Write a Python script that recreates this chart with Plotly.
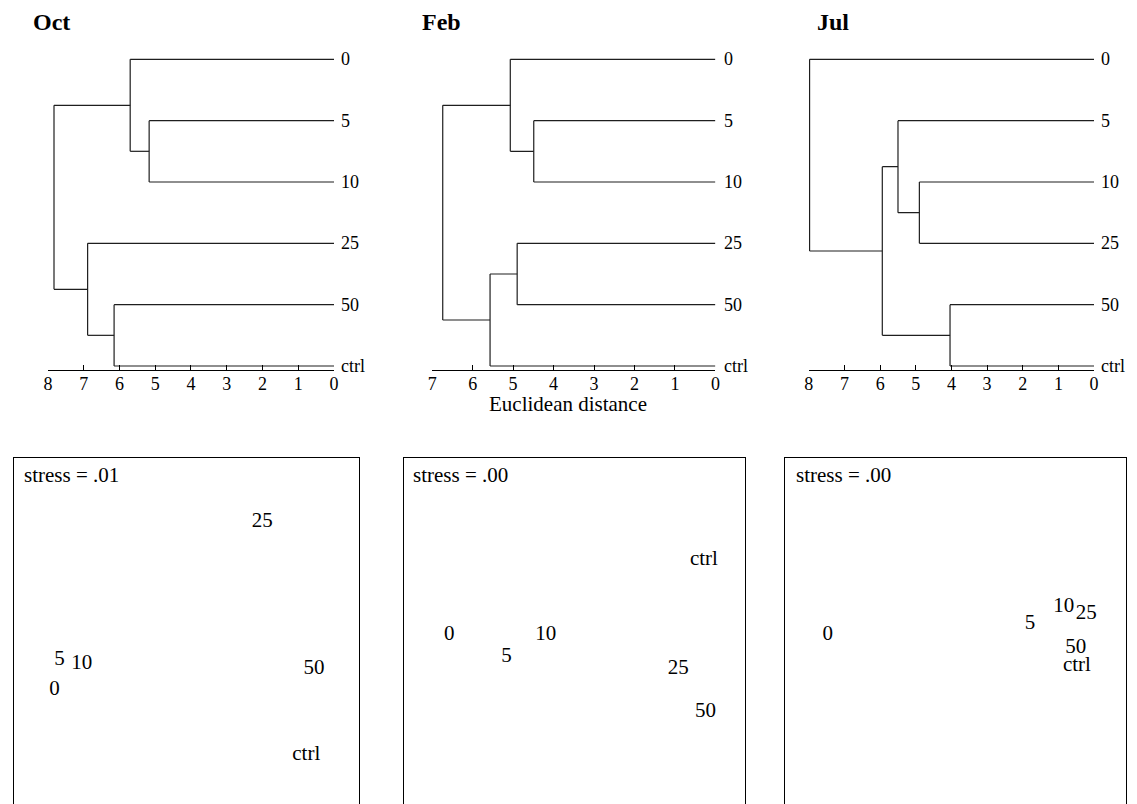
import plotly.graph_objects as go

W, H = 1137, 804
FONT = "Liberation Serif"

# ---------------- data ----------------
leaves = ["0", "5", "10", "25", "50", "ctrl"]

# linkage: (child_a, child_b, height); leaves are 0..5, new clusters 6,7,...
oct_merges = [(1, 2, 5.17), (0, 6, 5.70), (4, 5, 6.15), (3, 8, 6.89), (7, 9, 7.83)]
feb_merges = [(1, 2, 4.49), (0, 6, 5.07), (3, 4, 4.90), (8, 5, 5.57), (7, 9, 6.74)]
jul_merges = [(2, 3, 4.90), (1, 6, 5.50), (4, 5, 4.04), (7, 8, 5.94), (0, 9, 7.98)]

oct_ticks = [0, 1, 2, 3, 4, 5, 6, 7, 8]
feb_ticks = [0, 1, 2, 3, 4, 5, 6, 7]
jul_ticks = [0, 1, 2, 3, 4, 5, 6, 7, 8]

# MDS ordinations (dimension 1, dimension 2)
mds_labels = ["0", "5", "10", "25", "50", "ctrl"]
oct_dim1 = [-0.764, -0.736, -0.607, 0.440, 0.740, 0.695]
oct_dim2 = [-0.333, -0.161, -0.180, 0.634, -0.209, -0.707]
feb_dim1 = [-0.735, -0.399, -0.169, 0.608, 0.767, 0.758]
feb_dim2 = [-0.029, -0.155, -0.029, -0.223, -0.475, 0.407]
jul_dim1 = [-0.748, 0.437, 0.635, 0.767, 0.705, 0.712]
jul_dim2 = [-0.029, 0.040, 0.136, 0.098, -0.104, -0.204]

stress = [".01", ".00", ".00"]
months = ["Oct", "Feb", "Jul"]

# ---------------- layout geometry (pixels) ----------------
def px(x):
    return x / W

def py(y):
    return 1 - y / H

dend_x = [(43.3, 332.0), (431.0, 716.7), (811.0, 1098.7)]
dend_max = [8, 7, 8]
leaf_top, leaf_step, axis_y, dend_top = 59.3, 61.34, 370.0, 40.0
label_shift = [5, 7, 5]
title_x = [26, 419, 817]

mds_x = [(9.0, 357.0), (402.7, 746.7), (786.7, 1131.0)]
mds_top = 458.0
stress_x = [17, 410, 796]

fig = go.Figure()


def dendro_segments(merges):
    pos = {i: float(i) for i in range(len(leaves))}
    hgt = {i: 0.0 for i in range(len(leaves))}
    xs, ys = [], []
    nid = len(leaves)
    for a, b, h in merges:
        for c in (a, b):
            xs += [hgt[c], h, None]
            ys += [pos[c], pos[c], None]
        xs += [h, h, None]
        ys += [pos[a], pos[b], None]
        pos[nid] = (pos[a] + pos[b]) / 2
        hgt[nid] = h
        nid += 1
    return xs, ys


all_merges = [oct_merges, feb_merges, jul_merges]
all_ticks = [oct_ticks, feb_ticks, jul_ticks]
mds_all = [(oct_dim1, oct_dim2), (feb_dim1, feb_dim2), (jul_dim1, jul_dim2)]

annotations = []
layout_axes = {}

for k in range(3):
    ax = "" if k == 0 else str(k + 1)
    xs, ys = dendro_segments(all_merges[k])
    fig.add_trace(go.Scatter(x=xs, y=ys, mode="lines",
                             line=dict(color="#1e1e1e", width=1.2),
                             xaxis="x" + ax, yaxis="y" + ax,
                             hoverinfo="skip", showlegend=False))
    x0, x1 = dend_x[k]
    layout_axes["xaxis" + ax] = dict(
        domain=[px(x0), px(x1)], range=[dend_max[k], 0],
        anchor="y" + ax, showline=True, linecolor="black", linewidth=1.2,
        ticks="inside", ticklen=5, tickcolor="black", tickwidth=1,
        tickvals=all_ticks[k], ticktext=[str(t) for t in all_ticks[k]],
        tickfont=dict(family=FONT, size=18, color="black"),
        ticklabelstandoff=-3,
        showgrid=False, zeroline=False, fixedrange=True)
    ybot = 5 + (axis_y - (leaf_top + 5 * leaf_step)) / leaf_step
    ytop = -(leaf_top - dend_top) / leaf_step
    layout_axes["yaxis" + ax] = dict(
        domain=[py(axis_y), py(dend_top)], range=[ybot, ytop],
        anchor="x" + ax, visible=False, fixedrange=True)
    for i, name in enumerate(leaves):
        annotations.append(dict(
            x=0, y=i, xref="x" + ax, yref="y" + ax, text=name,
            showarrow=False, xanchor="left", yanchor="middle",
            xshift=label_shift[k],
            font=dict(family=FONT, size=18, color="black")))
    annotations.append(dict(
        x=px(title_x[k]), y=py(22), xref="paper", yref="paper",
        text=months[k], showarrow=False, xanchor="left", yanchor="middle",
        font=dict(family=FONT, size=24, color="black", weight="bold")))

    # MDS panel
    m = str(k + 4)
    d1, d2 = mds_all[k]
    fig.add_trace(go.Scatter(x=d1, y=d2, mode="text", text=mds_labels,
                             textposition="middle center",
                             textfont=dict(family=FONT, size=21, color="black"),
                             xaxis="x" + m, yaxis="y" + m,
                             hoverinfo="skip", showlegend=False, cliponaxis=False))
    mx0, mx1 = mds_x[k]
    half = (mx1 - mx0) / 2
    layout_axes["xaxis" + m] = dict(
        domain=[px(mx0), px(mx1)], range=[-1, 1], anchor="y" + m, side="top",
        showline=True, mirror=False, linecolor="black", linewidth=1.3,
        showticklabels=False, ticks="", showgrid=False, zeroline=False,
        fixedrange=True)
    layout_axes["yaxis" + m] = dict(
        domain=[0, py(mds_top)], range=[1 - (H - mds_top) / half, 1],
        anchor="x" + m, showline=True, mirror=True, linecolor="black",
        linewidth=1.3, showticklabels=False, ticks="", showgrid=False,
        zeroline=False, fixedrange=True)
    annotations.append(dict(
        x=px(stress_x[k]), y=py(475), xref="paper", yref="paper",
        text="stress = " + stress[k], showarrow=False,
        xanchor="left", yanchor="middle",
        font=dict(family=FONT, size=21, color="black")))

annotations.append(dict(
    x=px(568), y=py(404), xref="paper", yref="paper",
    text="Euclidean distance", showarrow=False,
    xanchor="center", yanchor="middle",
    font=dict(family=FONT, size=21, color="black")))

fig.update_layout(
    width=W, height=H,
    margin=dict(l=0, r=0, t=0, b=0),
    paper_bgcolor="white", plot_bgcolor="white",
    showlegend=False,
    annotations=annotations,
    **layout_axes)

fig.write_html(
    "out.html",
    config={"displayModeBar": False},
    post_script="document.body.style.margin='0px';"
                "document.documentElement.style.overflow='hidden';")
